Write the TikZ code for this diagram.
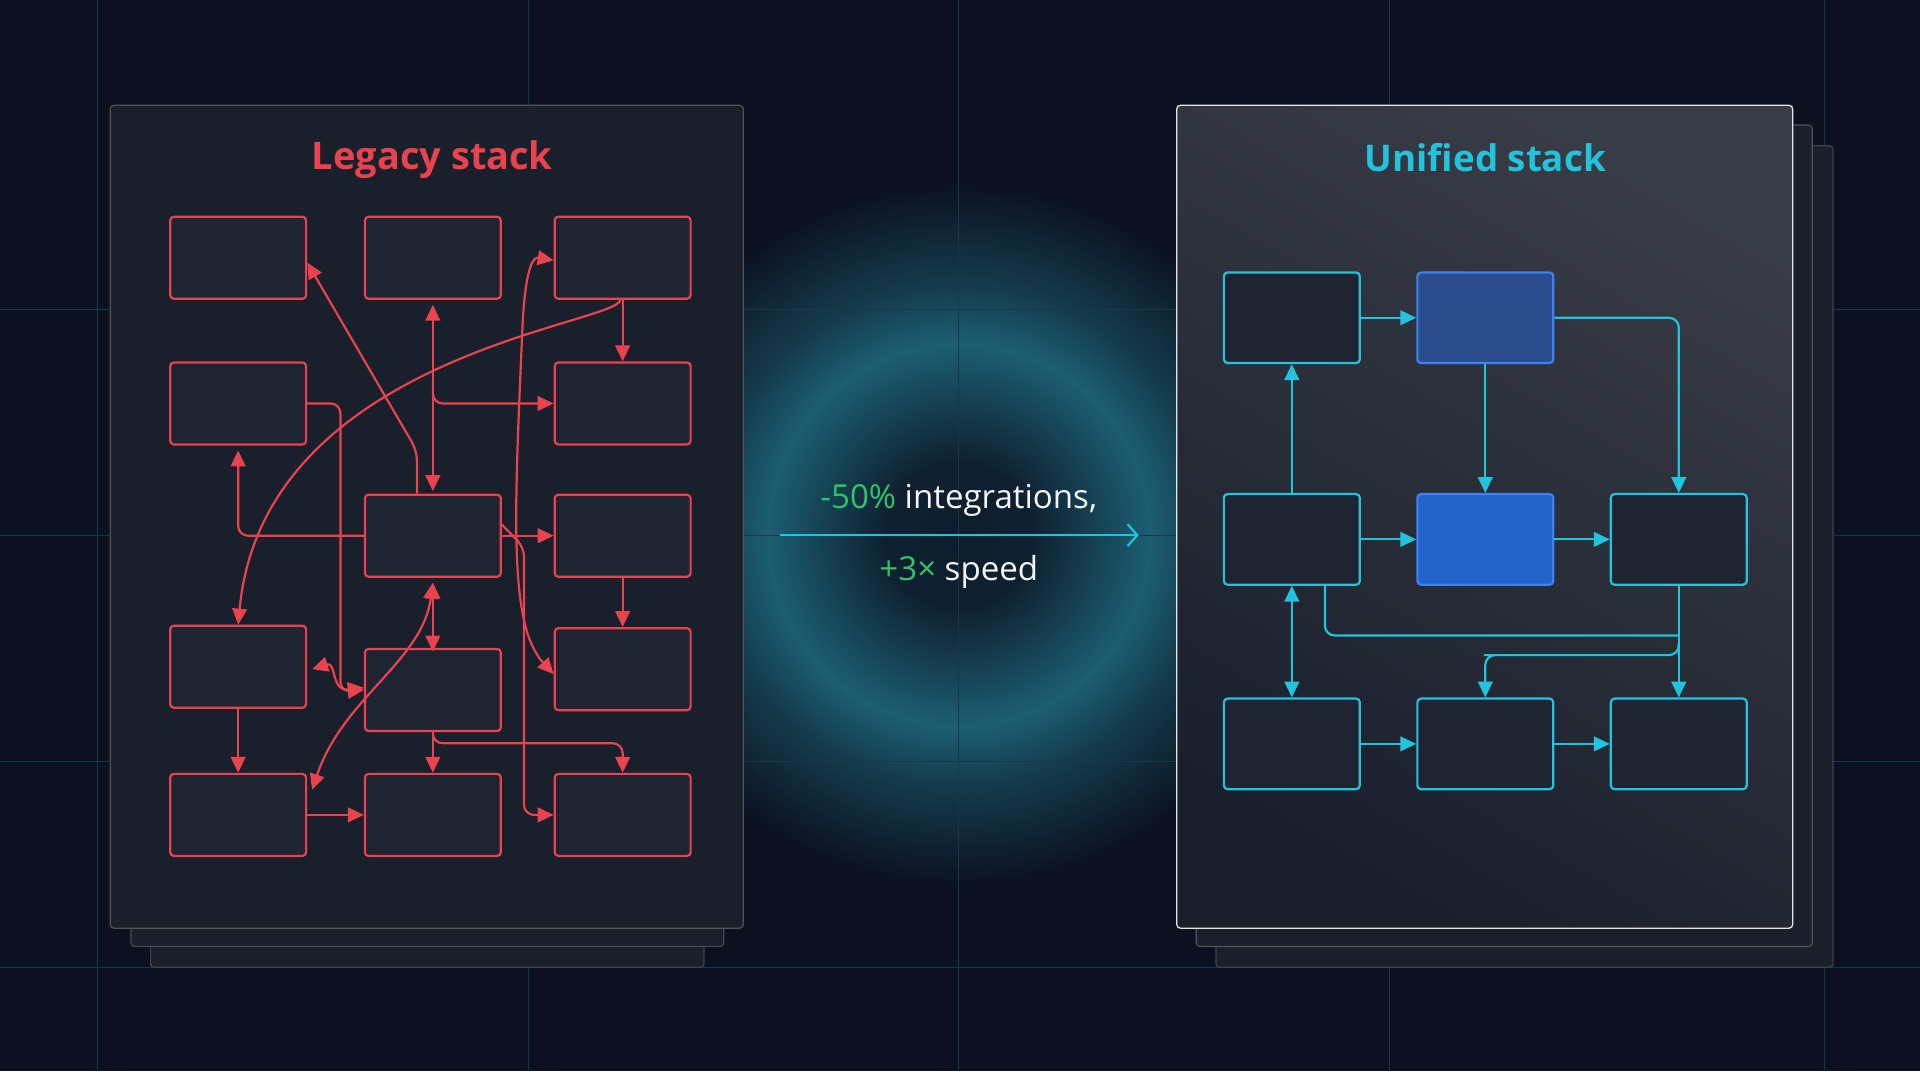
\documentclass[tikz,border=0pt]{standalone}
\usepackage{fontspec}
\setmainfont{Open Sans}
\usetikzlibrary{arrows.meta,positioning}
\definecolor{bgc}{HTML}{0B1120}
\definecolor{gridc}{HTML}{17384A}
\definecolor{glowc}{HTML}{1C5E72}
\definecolor{legred}{HTML}{E8434F}
\definecolor{unicyan}{HTML}{22C3DC}
\definecolor{gaingreen}{HTML}{2FC46A}
\definecolor{panelc}{HTML}{1A1F2C}
\definecolor{boxc}{HTML}{1F2433}
\definecolor{hotblue}{HTML}{2A4B8C}
\definecolor{hotfill}{HTML}{2563C9}
\definecolor{hotedge}{HTML}{3B82F6}
\pgfdeclareradialshading{glow}{\pgfpoint{0bp}{0bp}}{color(0bp)=(bgc!85!glowc); color(5bp)=(bgc!80!glowc); color(13bp)=(glowc); color(17bp)=(glowc!55!bgc); color(24bp)=(bgc); color(100bp)=(bgc)}
\tikzset{
  oldbox/.style={draw=legred, line width=1.8pt, fill=boxc, rounded corners=3pt,
    minimum width=111pt, minimum height=67pt, inner sep=0pt},
  newbox/.style={draw=unicyan, line width=1.8pt, fill=boxc, rounded corners=3pt,
    minimum width=111pt, minimum height=74pt, inner sep=0pt},
  oldlink/.style={legred, line width=1.8pt, rounded corners=8pt, -{Triangle[length=13pt,width=12pt]}},
  newlink/.style={unicyan, line width=1.8pt, rounded corners=8pt, -{Triangle[length=13pt,width=12pt]}},
  both/.style={{Triangle[length=13pt,width=12pt]}-{Triangle[length=13pt,width=12pt]}},
  paper/.style={draw=#1, line width=1pt, rounded corners=3pt}
}
\begin{document}
\begin{tikzpicture}[x=1pt,y=-1pt]
  % background and grid
  \fill[bgc] (0,0) rectangle (1568,875);
  \useasboundingbox (0,0) rectangle (1568,875);
  \shade[shading=glow] (783,437) circle (300);
  \foreach \gx in {80,432,783,1135,1490} \draw[gridc, line width=0.8pt] (\gx,0) -- (\gx,875);
  \foreach \gy in {253,437,622,790} \draw[gridc, line width=0.8pt] (0,\gy) -- (1568,\gy);

  % legacy panel
  \filldraw[paper=gray!45!bgc, fill=panelc] (123,108) rectangle (575,790);
  \filldraw[paper=gray!50!bgc, fill=panelc] (107,98) rectangle (591,773);
  \filldraw[paper=gray!60!bgc, fill=panelc] (90,86) rectangle (607,758);
  \node[font=\bfseries\fontsize{31}{34}\selectfont, text=legred] (legtitle) at (353,130) {Legacy stack};

  \node[oldbox] (la1) at (194.5,210.5) {};
  \node[oldbox] (lb1) at (353.5,210.5) {};
  \node[oldbox] (lc1) at (508.5,210.5) {};
  \node[oldbox] (la2) at (194.5,329.5) {};
  \node[oldbox] (lc2) at (508.5,329.5) {};
  \node[oldbox] (lb3) at (353.5,437.5) {};
  \node[oldbox] (lc3) at (508.5,437.5) {};
  \node[oldbox] (la3) at (194.5,544.5) {};
  \node[oldbox] (lb4) at (353.5,563.5) {};
  \node[oldbox] (lc4) at (508.5,546.5) {};
  \node[oldbox] (la4) at (194.5,665.5) {};
  \node[oldbox] (lb5) at (353.5,665.5) {};
  \node[oldbox] (lc5) at (508.5,665.5) {};

  % legacy connectors
  \draw[oldlink] ([xshift=-13pt]lb3.north) -- ++(0,-35) -- ([yshift=-4pt]la1.east);
  \draw[oldlink, both] ([yshift=-4pt]lb1.south) -- ([yshift=2pt]lb3.north);
  \draw[oldlink] (353.5,310) |- (lc2.west);
  \draw[oldlink] (lc1.south) -- (lc2.north);
  \draw[oldlink] ([xshift=-2pt]lc1.south) .. controls (505,265) and (215,290) .. (la3.north);
  \draw[oldlink] (la2.east) -- (278,329.5) -- (278,565) -- (lb4.west);
  \draw[oldlink] (lb3.west) -| ([yshift=-4pt]la2.south);
  \draw[legred, line width=1.8pt, both] ([yshift=-2pt,xshift=4pt]la3.east) .. controls (275,540) and (270,565) .. ([yshift=2pt]lb4.west);
  \draw[oldlink] (lb3.east) -- (lc3.west);
  \draw[oldlink] ([yshift=9pt]lb3.east) -- (428,447) -- (428,665.5) -- (lc5.west);
  \draw[legred, line width=1.8pt, both] ([yshift=-4pt]lc4.west) .. controls (415,510) and (420,420) .. (427,260) .. controls (430,215) and (436,210) .. ([yshift=-2pt]lc1.west);
  \draw[oldlink] (lc3.south) -- (lc4.north);
  \draw[oldlink, both] ([yshift=-4pt]lb3.south) -- ([yshift=-3pt]lb4.north);
  \draw[legred, line width=1.8pt, both] ([yshift=-4pt]lb3.south) .. controls (345,540) and (280,570) .. ([xshift=4pt,yshift=-14pt]la4.north east);
  \draw[oldlink] (la3.south) -- (la4.north);
  \draw[oldlink] (la4.east) -- (lb5.west);
  \draw[oldlink] (lb4.south) -- (lb5.north);
  \draw[oldlink] (353.5,600) |- (508.5,607) -- (lc5.north);

  % middle claim
  \node[font=\fontsize{27}{32}\selectfont, text=white!92!gray] (gain1) at (783,409) {\textcolor{gaingreen}{-50\%} integrations,};
  \node[font=\fontsize{27}{32}\selectfont, text=white!92!gray] (gain2) at (783,467) {\textcolor{gaingreen}{+3×} speed};
  \coordinate (arrL) at (637,437);
  \coordinate (arrR) at (930,437);
  \draw[unicyan, line width=1.8pt, -{Straight Barb[length=8pt,width=18pt]}] (arrL) -- (arrR);

  % unified panel
  \filldraw[paper=gray!45!bgc, fill=panelc] (993,119) rectangle (1497,790);
  \filldraw[paper=gray!60!bgc, fill=panelc] (977,102) rectangle (1480,773);
  \shade[top color=panelc!70!gray, bottom color=panelc, shading angle=-30] (961,86) rectangle (1464,758);
  \draw[paper=white!80!gray] (961,86) rectangle (1464,758);
  \node[font=\bfseries\fontsize{30}{34}\selectfont, text=unicyan] (unititle) at (1213,129) {Unified stack};

  \node[newbox] (ra1) at (1055,259.5) {};
  \node[newbox, draw=hotedge, fill=hotblue] (rb1) at (1213,259.5) {};
  \node[newbox] (ra2) at (1055,440.5) {};
  \node[newbox, draw=hotedge, fill=hotfill] (rb2) at (1213,440.5) {};
  \node[newbox] (rc2) at (1371,440.5) {};
  \node[newbox] (ra3) at (1055,607.5) {};
  \node[newbox] (rb3) at (1213,607.5) {};
  \node[newbox] (rc3) at (1371,607.5) {};

  % unified connectors
  \draw[newlink] (ra1) -- (rb1);
  \draw[newlink] (rb1.east) -| (rc2.north);
  \draw[newlink] (rb1) -- (rb2);
  \draw[newlink] (ra2) -- (ra1);
  \draw[newlink] (ra2) -- (rb2);
  \draw[newlink] (rb2) -- (rc2);
  \draw[newlink, both] (ra2) -- (ra3);
  \draw[unicyan, line width=1.8pt, rounded corners=8pt] ([xshift=27pt]ra2.south) |- (1371,519);
  \draw[newlink] (rc2) -- (rc3);
  \draw[newlink] (1371,525) |- (1220,535) -| (rb3.north);
  \draw[newlink] (ra3) -- (rb3);
  \draw[newlink] (rb3) -- (rc3);
\end{tikzpicture}
\end{document}
